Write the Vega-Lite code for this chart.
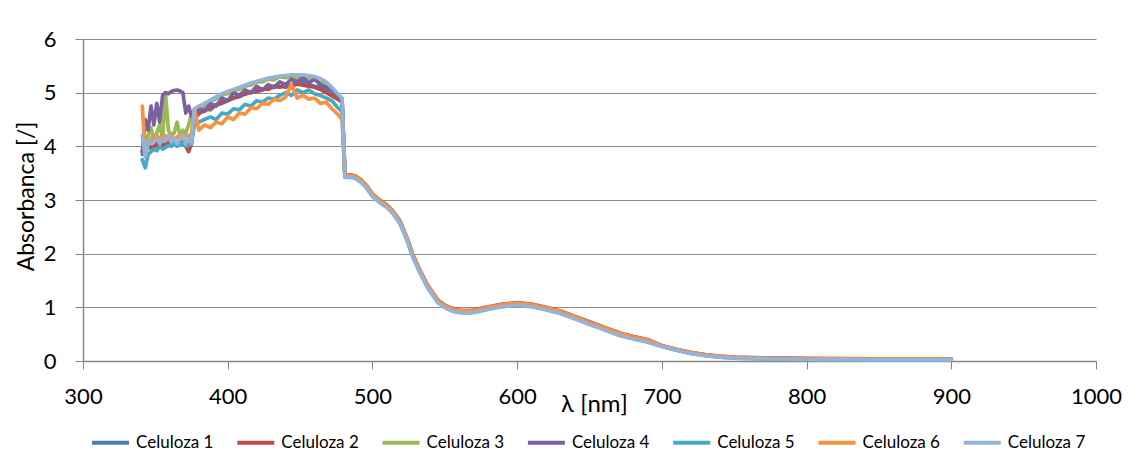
{
  "$schema": "https://vega.github.io/schema/vega-lite/v6.json",
  "width": 1013,
  "height": 322,
  "autosize": {"type": "none"},
  "padding": {"left": 83, "top": 39, "right": 34, "bottom": 96},
  "background": "white",
  "config": {"view": {"stroke": null}, "font": "Lato"},
  "data": {
    "values": [
      {"x": 341, "Celuloza 1": 3.85, "Celuloza 2": 3.9, "Celuloza 3": 3.9, "Celuloza 4": 3.9, "Celuloza 5": 3.75, "Celuloza 6": 4.75, "Celuloza 7": 4.2},
      {"x": 343, "Celuloza 1": 3.95, "Celuloza 2": 3.95, "Celuloza 3": 4.1, "Celuloza 4": 4.5, "Celuloza 5": 3.6, "Celuloza 6": 3.85, "Celuloza 7": 3.8},
      {"x": 345, "Celuloza 1": 4.0, "Celuloza 2": 4.02, "Celuloza 3": 4.2, "Celuloza 4": 4.3, "Celuloza 5": 3.85, "Celuloza 6": 4.05, "Celuloza 7": 4.1},
      {"x": 347, "Celuloza 1": 3.95, "Celuloza 2": 4.0, "Celuloza 3": 4.35, "Celuloza 4": 4.75, "Celuloza 5": 3.9, "Celuloza 6": 4.15, "Celuloza 7": 4.05},
      {"x": 349, "Celuloza 1": 4.0, "Celuloza 2": 3.98, "Celuloza 3": 4.1, "Celuloza 4": 4.4, "Celuloza 5": 3.95, "Celuloza 6": 4.1, "Celuloza 7": 4.1},
      {"x": 351, "Celuloza 1": 4.02, "Celuloza 2": 4.05, "Celuloza 3": 4.25, "Celuloza 4": 4.8, "Celuloza 5": 3.92, "Celuloza 6": 4.2, "Celuloza 7": 4.15},
      {"x": 353, "Celuloza 1": 3.98, "Celuloza 2": 4.02, "Celuloza 3": 4.4, "Celuloza 4": 4.45, "Celuloza 5": 4.0, "Celuloza 6": 4.15, "Celuloza 7": 4.05},
      {"x": 355, "Celuloza 1": 4.05, "Celuloza 2": 4.0, "Celuloza 3": 4.15, "Celuloza 4": 4.95, "Celuloza 5": 3.95, "Celuloza 6": 4.1, "Celuloza 7": 4.12},
      {"x": 357, "Celuloza 1": 4.0, "Celuloza 2": 4.05, "Celuloza 3": 5.0, "Celuloza 4": 5.0, "Celuloza 5": 3.98, "Celuloza 6": 4.2, "Celuloza 7": 4.1},
      {"x": 359, "Celuloza 1": 4.05, "Celuloza 2": 4.08, "Celuloza 3": 4.3, "Celuloza 4": 4.98, "Celuloza 5": 4.02, "Celuloza 6": 4.15, "Celuloza 7": 4.2},
      {"x": 361, "Celuloza 1": 4.02, "Celuloza 2": 4.05, "Celuloza 3": 4.2, "Celuloza 4": 5.02, "Celuloza 5": 4.0, "Celuloza 6": 4.2, "Celuloza 7": 4.08},
      {"x": 363, "Celuloza 1": 4.08, "Celuloza 2": 4.1, "Celuloza 3": 4.25, "Celuloza 4": 5.04, "Celuloza 5": 4.05, "Celuloza 6": 4.12, "Celuloza 7": 4.15},
      {"x": 365, "Celuloza 1": 4.05, "Celuloza 2": 4.05, "Celuloza 3": 4.45, "Celuloza 4": 5.05, "Celuloza 5": 4.0, "Celuloza 6": 4.18, "Celuloza 7": 4.05},
      {"x": 367, "Celuloza 1": 4.1, "Celuloza 2": 4.08, "Celuloza 3": 4.2, "Celuloza 4": 5.03, "Celuloza 5": 4.03, "Celuloza 6": 4.15, "Celuloza 7": 4.12},
      {"x": 369, "Celuloza 1": 4.05, "Celuloza 2": 4.1, "Celuloza 3": 4.3, "Celuloza 4": 5.0, "Celuloza 5": 4.05, "Celuloza 6": 4.22, "Celuloza 7": 4.2},
      {"x": 371, "Celuloza 1": 4.08, "Celuloza 2": 4.0, "Celuloza 3": 4.25, "Celuloza 4": 4.62, "Celuloza 5": 4.0, "Celuloza 6": 4.2, "Celuloza 7": 4.05},
      {"x": 373, "Celuloza 1": 4.02, "Celuloza 2": 3.9, "Celuloza 3": 4.4, "Celuloza 4": 4.75, "Celuloza 5": 4.02, "Celuloza 6": 4.18, "Celuloza 7": 4.15},
      {"x": 375, "Celuloza 1": 4.05, "Celuloza 2": 4.05, "Celuloza 3": 4.6, "Celuloza 4": 4.55, "Celuloza 5": 4.1, "Celuloza 6": 4.25, "Celuloza 7": 4.05},
      {"x": 377, "Celuloza 1": 4.55, "Celuloza 2": 4.5, "Celuloza 3": 4.68, "Celuloza 4": 4.6, "Celuloza 5": 4.4, "Celuloza 6": 4.7, "Celuloza 7": 4.7},
      {"x": 380, "Celuloza 1": 4.6, "Celuloza 2": 4.62, "Celuloza 3": 4.72, "Celuloza 4": 4.7, "Celuloza 5": 4.45, "Celuloza 6": 4.3, "Celuloza 7": 4.75},
      {"x": 384, "Celuloza 1": 4.7, "Celuloza 2": 4.66, "Celuloza 3": 4.75, "Celuloza 4": 4.65, "Celuloza 5": 4.5, "Celuloza 6": 4.4, "Celuloza 7": 4.8},
      {"x": 388, "Celuloza 1": 4.68, "Celuloza 2": 4.72, "Celuloza 3": 4.84, "Celuloza 4": 4.8, "Celuloza 5": 4.55, "Celuloza 6": 4.35, "Celuloza 7": 4.86},
      {"x": 392, "Celuloza 1": 4.78, "Celuloza 2": 4.76, "Celuloza 3": 4.88, "Celuloza 4": 4.75, "Celuloza 5": 4.5, "Celuloza 6": 4.45, "Celuloza 7": 4.92},
      {"x": 396, "Celuloza 1": 4.8, "Celuloza 2": 4.82, "Celuloza 3": 4.96, "Celuloza 4": 4.9, "Celuloza 5": 4.62, "Celuloza 6": 4.42, "Celuloza 7": 4.98},
      {"x": 400, "Celuloza 1": 4.85, "Celuloza 2": 4.86, "Celuloza 3": 4.98, "Celuloza 4": 4.85, "Celuloza 5": 4.6, "Celuloza 6": 4.55, "Celuloza 7": 5.02},
      {"x": 404, "Celuloza 1": 4.9, "Celuloza 2": 4.9, "Celuloza 3": 5.04, "Celuloza 4": 5.0, "Celuloza 5": 4.7, "Celuloza 6": 4.5, "Celuloza 7": 5.06},
      {"x": 408, "Celuloza 1": 4.92, "Celuloza 2": 4.95, "Celuloza 3": 5.06, "Celuloza 4": 4.95, "Celuloza 5": 4.68, "Celuloza 6": 4.62, "Celuloza 7": 5.1},
      {"x": 412, "Celuloza 1": 4.98, "Celuloza 2": 4.97, "Celuloza 3": 5.12, "Celuloza 4": 5.05, "Celuloza 5": 4.78, "Celuloza 6": 4.6, "Celuloza 7": 5.14},
      {"x": 416, "Celuloza 1": 5.0, "Celuloza 2": 5.02, "Celuloza 3": 5.14, "Celuloza 4": 5.0, "Celuloza 5": 4.75, "Celuloza 6": 4.72, "Celuloza 7": 5.18},
      {"x": 420, "Celuloza 1": 5.02, "Celuloza 2": 5.03, "Celuloza 3": 5.2, "Celuloza 4": 5.12, "Celuloza 5": 4.85, "Celuloza 6": 4.7, "Celuloza 7": 5.21},
      {"x": 424, "Celuloza 1": 5.05, "Celuloza 2": 5.07, "Celuloza 3": 5.2, "Celuloza 4": 5.05, "Celuloza 5": 4.82, "Celuloza 6": 4.8, "Celuloza 7": 5.24},
      {"x": 428, "Celuloza 1": 5.08, "Celuloza 2": 5.06, "Celuloza 3": 5.25, "Celuloza 4": 5.15, "Celuloza 5": 4.9, "Celuloza 6": 4.78, "Celuloza 7": 5.27},
      {"x": 432, "Celuloza 1": 5.1, "Celuloza 2": 5.12, "Celuloza 3": 5.24, "Celuloza 4": 5.1, "Celuloza 5": 4.88, "Celuloza 6": 4.88, "Celuloza 7": 5.29},
      {"x": 436, "Celuloza 1": 5.12, "Celuloza 2": 5.1, "Celuloza 3": 5.3, "Celuloza 4": 5.2, "Celuloza 5": 4.95, "Celuloza 6": 4.85, "Celuloza 7": 5.31},
      {"x": 440, "Celuloza 1": 5.1, "Celuloza 2": 5.14, "Celuloza 3": 5.28, "Celuloza 4": 5.15, "Celuloza 5": 5.0, "Celuloza 6": 4.92, "Celuloza 7": 5.32},
      {"x": 444, "Celuloza 1": 5.15, "Celuloza 2": 5.12, "Celuloza 3": 5.3, "Celuloza 4": 5.25, "Celuloza 5": 4.95, "Celuloza 6": 5.15, "Celuloza 7": 5.33},
      {"x": 448, "Celuloza 1": 5.18, "Celuloza 2": 5.16, "Celuloza 3": 5.26, "Celuloza 4": 5.2, "Celuloza 5": 5.05, "Celuloza 6": 4.9, "Celuloza 7": 5.33},
      {"x": 452, "Celuloza 1": 5.2, "Celuloza 2": 5.14, "Celuloza 3": 5.3, "Celuloza 4": 5.28, "Celuloza 5": 5.0, "Celuloza 6": 4.95, "Celuloza 7": 5.33},
      {"x": 456, "Celuloza 1": 5.15, "Celuloza 2": 5.12, "Celuloza 3": 5.25, "Celuloza 4": 5.18, "Celuloza 5": 5.05, "Celuloza 6": 4.88, "Celuloza 7": 5.32},
      {"x": 460, "Celuloza 1": 5.12, "Celuloza 2": 5.1, "Celuloza 3": 5.27, "Celuloza 4": 5.25, "Celuloza 5": 4.98, "Celuloza 6": 4.9, "Celuloza 7": 5.3},
      {"x": 464, "Celuloza 1": 5.1, "Celuloza 2": 5.06, "Celuloza 3": 5.2, "Celuloza 4": 5.15, "Celuloza 5": 4.95, "Celuloza 6": 4.8, "Celuloza 7": 5.26},
      {"x": 468, "Celuloza 1": 5.05, "Celuloza 2": 5.0, "Celuloza 3": 5.16, "Celuloza 4": 5.1, "Celuloza 5": 4.9, "Celuloza 6": 4.82, "Celuloza 7": 5.2},
      {"x": 472, "Celuloza 1": 5.0, "Celuloza 2": 4.94, "Celuloza 3": 5.05, "Celuloza 4": 5.05, "Celuloza 5": 4.85, "Celuloza 6": 4.7, "Celuloza 7": 5.1},
      {"x": 476, "Celuloza 1": 4.92, "Celuloza 2": 4.88, "Celuloza 3": 4.95, "Celuloza 4": 4.95, "Celuloza 5": 4.72, "Celuloza 6": 4.6, "Celuloza 7": 4.98},
      {"x": 479, "Celuloza 1": 4.85, "Celuloza 2": 4.82, "Celuloza 3": 4.88, "Celuloza 4": 4.88, "Celuloza 5": 4.65, "Celuloza 6": 4.5, "Celuloza 7": 4.9},
      {"x": 481, "Celuloza 1": 3.44, "Celuloza 2": 3.47, "Celuloza 3": 3.45, "Celuloza 4": 3.45, "Celuloza 5": 3.43, "Celuloza 6": 3.46, "Celuloza 7": 3.42},
      {"x": 485, "Celuloza 1": 3.44, "Celuloza 2": 3.47, "Celuloza 3": 3.45, "Celuloza 4": 3.45, "Celuloza 5": 3.43, "Celuloza 6": 3.46, "Celuloza 7": 3.42},
      {"x": 488, "Celuloza 1": 3.42, "Celuloza 2": 3.45, "Celuloza 3": 3.43, "Celuloza 4": 3.43, "Celuloza 5": 3.41, "Celuloza 6": 3.44, "Celuloza 7": 3.4},
      {"x": 492, "Celuloza 1": 3.35, "Celuloza 2": 3.38, "Celuloza 3": 3.36, "Celuloza 4": 3.36, "Celuloza 5": 3.34, "Celuloza 6": 3.37, "Celuloza 7": 3.33},
      {"x": 496, "Celuloza 1": 3.24, "Celuloza 2": 3.27, "Celuloza 3": 3.25, "Celuloza 4": 3.25, "Celuloza 5": 3.23, "Celuloza 6": 3.26, "Celuloza 7": 3.22},
      {"x": 500, "Celuloza 1": 3.08, "Celuloza 2": 3.11, "Celuloza 3": 3.09, "Celuloza 4": 3.09, "Celuloza 5": 3.07, "Celuloza 6": 3.1, "Celuloza 7": 3.06},
      {"x": 505, "Celuloza 1": 2.97, "Celuloza 2": 3.0, "Celuloza 3": 2.98, "Celuloza 4": 2.98, "Celuloza 5": 2.96, "Celuloza 6": 2.99, "Celuloza 7": 2.95},
      {"x": 510, "Celuloza 1": 2.88, "Celuloza 2": 2.91, "Celuloza 3": 2.89, "Celuloza 4": 2.89, "Celuloza 5": 2.87, "Celuloza 6": 2.9, "Celuloza 7": 2.86},
      {"x": 514, "Celuloza 1": 2.77, "Celuloza 2": 2.8, "Celuloza 3": 2.78, "Celuloza 4": 2.78, "Celuloza 5": 2.76, "Celuloza 6": 2.79, "Celuloza 7": 2.75},
      {"x": 519, "Celuloza 1": 2.58, "Celuloza 2": 2.61, "Celuloza 3": 2.59, "Celuloza 4": 2.59, "Celuloza 5": 2.57, "Celuloza 6": 2.6, "Celuloza 7": 2.56},
      {"x": 524, "Celuloza 1": 2.26, "Celuloza 2": 2.29, "Celuloza 3": 2.27, "Celuloza 4": 2.27, "Celuloza 5": 2.25, "Celuloza 6": 2.28, "Celuloza 7": 2.24},
      {"x": 528, "Celuloza 1": 1.95, "Celuloza 2": 1.98, "Celuloza 3": 1.96, "Celuloza 4": 1.96, "Celuloza 5": 1.94, "Celuloza 6": 1.97, "Celuloza 7": 1.93},
      {"x": 533, "Celuloza 1": 1.65, "Celuloza 2": 1.68, "Celuloza 3": 1.66, "Celuloza 4": 1.66, "Celuloza 5": 1.64, "Celuloza 6": 1.67, "Celuloza 7": 1.63},
      {"x": 538, "Celuloza 1": 1.39, "Celuloza 2": 1.42, "Celuloza 3": 1.4, "Celuloza 4": 1.4, "Celuloza 5": 1.38, "Celuloza 6": 1.41, "Celuloza 7": 1.37},
      {"x": 545, "Celuloza 1": 1.11, "Celuloza 2": 1.14, "Celuloza 3": 1.12, "Celuloza 4": 1.12, "Celuloza 5": 1.1, "Celuloza 6": 1.13, "Celuloza 7": 1.09},
      {"x": 550, "Celuloza 1": 1.01, "Celuloza 2": 1.04, "Celuloza 3": 1.02, "Celuloza 4": 1.02, "Celuloza 5": 1.0, "Celuloza 6": 1.03, "Celuloza 7": 0.99},
      {"x": 555, "Celuloza 1": 0.95, "Celuloza 2": 0.98, "Celuloza 3": 0.96, "Celuloza 4": 0.96, "Celuloza 5": 0.94, "Celuloza 6": 0.97, "Celuloza 7": 0.93},
      {"x": 560, "Celuloza 1": 0.92, "Celuloza 2": 0.95, "Celuloza 3": 0.93, "Celuloza 4": 0.93, "Celuloza 5": 0.91, "Celuloza 6": 0.94, "Celuloza 7": 0.9},
      {"x": 565, "Celuloza 1": 0.91, "Celuloza 2": 0.94, "Celuloza 3": 0.92, "Celuloza 4": 0.92, "Celuloza 5": 0.9, "Celuloza 6": 0.93, "Celuloza 7": 0.89},
      {"x": 570, "Celuloza 1": 0.92, "Celuloza 2": 0.95, "Celuloza 3": 0.93, "Celuloza 4": 0.93, "Celuloza 5": 0.91, "Celuloza 6": 0.94, "Celuloza 7": 0.9},
      {"x": 575, "Celuloza 1": 0.95, "Celuloza 2": 0.98, "Celuloza 3": 0.96, "Celuloza 4": 0.96, "Celuloza 5": 0.94, "Celuloza 6": 0.97, "Celuloza 7": 0.93},
      {"x": 580, "Celuloza 1": 0.98, "Celuloza 2": 1.01, "Celuloza 3": 0.99, "Celuloza 4": 0.99, "Celuloza 5": 0.97, "Celuloza 6": 1.0, "Celuloza 7": 0.96},
      {"x": 590, "Celuloza 1": 1.03, "Celuloza 2": 1.06, "Celuloza 3": 1.04, "Celuloza 4": 1.04, "Celuloza 5": 1.02, "Celuloza 6": 1.05, "Celuloza 7": 1.01},
      {"x": 600, "Celuloza 1": 1.06, "Celuloza 2": 1.09, "Celuloza 3": 1.07, "Celuloza 4": 1.07, "Celuloza 5": 1.05, "Celuloza 6": 1.08, "Celuloza 7": 1.04},
      {"x": 610, "Celuloza 1": 1.03, "Celuloza 2": 1.06, "Celuloza 3": 1.04, "Celuloza 4": 1.04, "Celuloza 5": 1.02, "Celuloza 6": 1.05, "Celuloza 7": 1.01},
      {"x": 620, "Celuloza 1": 0.97, "Celuloza 2": 1.0, "Celuloza 3": 0.98, "Celuloza 4": 0.98, "Celuloza 5": 0.96, "Celuloza 6": 0.99, "Celuloza 7": 0.95},
      {"x": 630, "Celuloza 1": 0.9, "Celuloza 2": 0.93, "Celuloza 3": 0.91, "Celuloza 4": 0.91, "Celuloza 5": 0.89, "Celuloza 6": 0.92, "Celuloza 7": 0.88},
      {"x": 640, "Celuloza 1": 0.8, "Celuloza 2": 0.83, "Celuloza 3": 0.81, "Celuloza 4": 0.81, "Celuloza 5": 0.79, "Celuloza 6": 0.82, "Celuloza 7": 0.78},
      {"x": 650, "Celuloza 1": 0.7, "Celuloza 2": 0.73, "Celuloza 3": 0.71, "Celuloza 4": 0.71, "Celuloza 5": 0.69, "Celuloza 6": 0.72, "Celuloza 7": 0.68},
      {"x": 660, "Celuloza 1": 0.6, "Celuloza 2": 0.63, "Celuloza 3": 0.61, "Celuloza 4": 0.61, "Celuloza 5": 0.59, "Celuloza 6": 0.62, "Celuloza 7": 0.58},
      {"x": 671, "Celuloza 1": 0.49, "Celuloza 2": 0.52, "Celuloza 3": 0.5, "Celuloza 4": 0.5, "Celuloza 5": 0.48, "Celuloza 6": 0.51, "Celuloza 7": 0.47},
      {"x": 680, "Celuloza 1": 0.43, "Celuloza 2": 0.46, "Celuloza 3": 0.44, "Celuloza 4": 0.44, "Celuloza 5": 0.42, "Celuloza 6": 0.45, "Celuloza 7": 0.41},
      {"x": 690, "Celuloza 1": 0.37, "Celuloza 2": 0.4, "Celuloza 3": 0.38, "Celuloza 4": 0.38, "Celuloza 5": 0.36, "Celuloza 6": 0.39, "Celuloza 7": 0.35},
      {"x": 700, "Celuloza 1": 0.28, "Celuloza 2": 0.29, "Celuloza 3": 0.28, "Celuloza 4": 0.28, "Celuloza 5": 0.27, "Celuloza 6": 0.285, "Celuloza 7": 0.27},
      {"x": 710, "Celuloza 1": 0.21, "Celuloza 2": 0.22, "Celuloza 3": 0.21, "Celuloza 4": 0.21, "Celuloza 5": 0.2, "Celuloza 6": 0.215, "Celuloza 7": 0.2},
      {"x": 720, "Celuloza 1": 0.15, "Celuloza 2": 0.16, "Celuloza 3": 0.15, "Celuloza 4": 0.15, "Celuloza 5": 0.14, "Celuloza 6": 0.155, "Celuloza 7": 0.14},
      {"x": 730, "Celuloza 1": 0.11, "Celuloza 2": 0.12, "Celuloza 3": 0.11, "Celuloza 4": 0.11, "Celuloza 5": 0.1, "Celuloza 6": 0.115, "Celuloza 7": 0.1},
      {"x": 740, "Celuloza 1": 0.08, "Celuloza 2": 0.09, "Celuloza 3": 0.08, "Celuloza 4": 0.08, "Celuloza 5": 0.07, "Celuloza 6": 0.085, "Celuloza 7": 0.07},
      {"x": 750, "Celuloza 1": 0.065, "Celuloza 2": 0.075, "Celuloza 3": 0.065, "Celuloza 4": 0.065, "Celuloza 5": 0.055, "Celuloza 6": 0.07, "Celuloza 7": 0.055},
      {"x": 770, "Celuloza 1": 0.05, "Celuloza 2": 0.06, "Celuloza 3": 0.05, "Celuloza 4": 0.05, "Celuloza 5": 0.04, "Celuloza 6": 0.055, "Celuloza 7": 0.04},
      {"x": 800, "Celuloza 1": 0.04, "Celuloza 2": 0.05, "Celuloza 3": 0.04, "Celuloza 4": 0.04, "Celuloza 5": 0.03, "Celuloza 6": 0.045, "Celuloza 7": 0.03},
      {"x": 850, "Celuloza 1": 0.03, "Celuloza 2": 0.04, "Celuloza 3": 0.03, "Celuloza 4": 0.03, "Celuloza 5": 0.02, "Celuloza 6": 0.035, "Celuloza 7": 0.02},
      {"x": 900, "Celuloza 1": 0.03, "Celuloza 2": 0.04, "Celuloza 3": 0.03, "Celuloza 4": 0.03, "Celuloza 5": 0.02, "Celuloza 6": 0.035, "Celuloza 7": 0.02}
    ]
  },
  "transform": [
    {"fold": ["Celuloza 1", "Celuloza 2", "Celuloza 3", "Celuloza 4", "Celuloza 5", "Celuloza 6", "Celuloza 7"], "as": ["series", "abs"]}
  ],
  "mark": {"type": "line", "strokeWidth": 3.7, "strokeJoin": "round", "strokeCap": "round"},
  "encoding": {
    "x": {
      "field": "x",
      "type": "quantitative",
      "scale": {"domain": [300, 1000], "nice": false, "zero": false},
      "axis": {
        "values": [300, 400, 500, 600, 700, 800, 900, 1000],
        "format": "d",
        "labelFlush": false,
        "labelOverlap": false,
        "title": "λ [nm]",
        "grid": false,
        "domainColor": "#868686",
        "domainWidth": 1.5,
        "tickColor": "#868686",
        "tickWidth": 1,
        "tickSize": 8,
        "labelFontSize": 22,
        "labelColor": "#000000",
        "labelPadding": 17,
        "titleFontSize": 24,
        "titleFontWeight": "normal",
        "titleColor": "#000000",
        "titleX": 511,
        "titleY": 50,
        "titleBaseline": "alphabetic",
        "titleAlign": "center"
      }
    },
    "y": {
      "field": "abs",
      "type": "quantitative",
      "scale": {"domain": [0, 6], "nice": false},
      "axis": {
        "values": [0, 1, 2, 3, 4, 5, 6],
        "labelOverlap": false,
        "title": "Absorbanca [/]",
        "grid": true,
        "gridColor": "#8c8c8c",
        "gridWidth": 1,
        "domainColor": "#868686",
        "domainWidth": 1.5,
        "tickColor": "#868686",
        "tickSize": 8,
        "labelPadding": 19,
        "labelFontSize": 22,
        "labelColor": "#000000",
        "titleFontSize": 23,
        "titleFontWeight": "normal",
        "titleColor": "#000000",
        "titleX": -50,
        "titleY": 157,
        "titleAngle": -90,
        "titleBaseline": "alphabetic",
        "titleAlign": "center"
      }
    },
    "color": {
      "field": "series",
      "type": "nominal",
      "scale": {
        "domain": ["Celuloza 1", "Celuloza 2", "Celuloza 3", "Celuloza 4", "Celuloza 5", "Celuloza 6", "Celuloza 7"],
        "range": ["#4A7EBB", "#BE4B48", "#98B954", "#7D60A0", "#46AAC5", "#F69240", "#95B3D7"]
      },
      "legend": {
        "title": null,
        "orient": "none",
        "legendX": 7,
        "legendY": 383,
        "direction": "horizontal",
        "columns": 7,
        "symbolType": "stroke",
        "symbolSize": 1369,
        "symbolStrokeWidth": 4,
        "labelFontSize": 17,
        "labelColor": "#000000",
        "labelOffset": 5,
        "columnPadding": 15.3
      }
    }
  }
}
